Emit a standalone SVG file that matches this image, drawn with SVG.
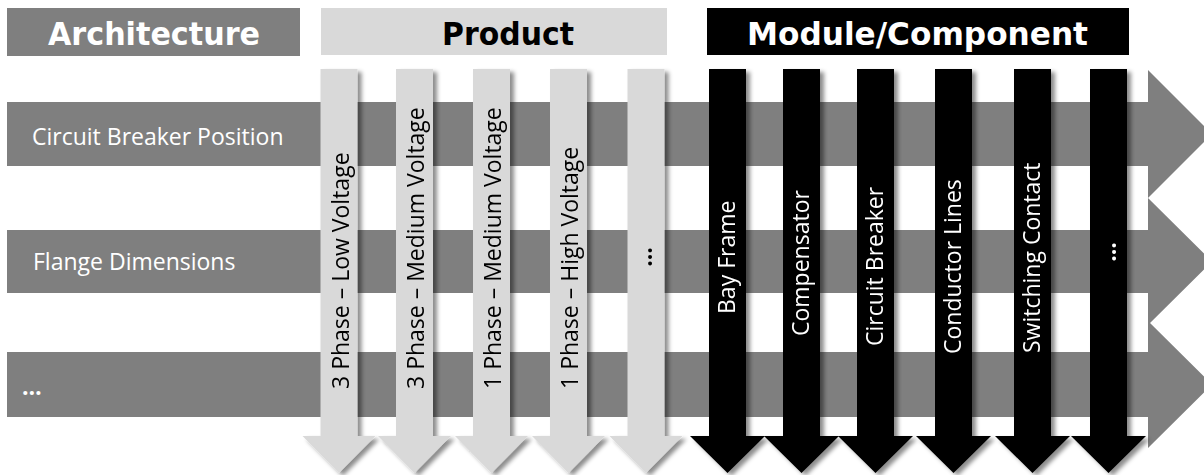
<svg xmlns="http://www.w3.org/2000/svg" width="1204" height="475" viewBox="0 0 1204 475">
<defs>
<style>
.hdr{font-family:"DejaVu Sans",Verdana,sans-serif;font-weight:bold;font-size:32px;text-anchor:middle}
.lbl{font-family:"Open Sans","Noto Sans",sans-serif;font-size:23px}
.row{fill:#7f7f7f}
.prod{fill:#d9d9d9}
.mod{fill:#000}
.wt{fill:#fff}
.bk{fill:#000}
</style>
<filter id="sh" x="-20%" y="-5%" width="150%" height="115%">
<feDropShadow dx="4" dy="3" stdDeviation="2" flood-color="#000" flood-opacity="0.45"/>
</filter>
<polygon id="garrow" points="-18.5,69 18.5,69 18.5,436 36.5,436 0,473 -36.5,436 -18.5,436"/>
<polygon id="barrow" points="-18.5,69 18.5,69 18.5,436 37.5,436 0,473 -37.5,436 -18.5,436"/>
</defs>
<rect width="1204" height="475" fill="#fff"/>

<g id="header-architecture">
<rect x="7" y="8" width="293" height="48" fill="#7f7f7f"/>
<text class="hdr wt" x="154" y="44.5" textLength="212" lengthAdjust="spacingAndGlyphs">Architecture</text>
</g>
<g id="header-product">
<rect x="321" y="8" width="346" height="47" fill="#d9d9d9"/>
<text class="hdr bk" x="508" y="44.5" textLength="132" lengthAdjust="spacingAndGlyphs">Product</text>
</g>
<g id="header-module">
<rect x="707" y="8" width="422" height="47" fill="#000"/>
<text class="hdr wt" x="917.5" y="44.5" textLength="341" lengthAdjust="spacingAndGlyphs">Module/Component</text>
</g>

<g id="row-circuit-breaker-position">
<polygon class="row" points="7,102 1148,102 1148,70 1212,134 1148,198 1148,166 7,166"/>
<text class="lbl wt" x="32" y="145">Circuit Breaker Position</text>
</g>
<g id="row-flange-dimensions">
<polygon class="row" points="7,230 1148,230 1148,198 1212,261.5 1148,325 1148,293 7,293"/>
<text class="lbl wt" x="33" y="270">Flange Dimensions</text>
</g>
<g id="row-more">
<polygon class="row" points="7,352 1148,352 1148,321 1212,384.5 1148,448 1148,417 7,417"/>
<text class="lbl wt" x="22" y="395" font-weight="bold">…</text>
</g>

<g id="connectors"></g>

<g id="product-3p-lv" filter="url(#sh)">
<use href="#garrow" class="prod" transform="translate(339,0)"/>
<text class="lbl bk" transform="translate(348.5,389) rotate(-90)">3 Phase – Low Voltage</text>
</g>
<g id="product-3p-mv" filter="url(#sh)">
<use href="#garrow" class="prod" transform="translate(414.5,0)"/>
<text class="lbl bk" transform="translate(424,389) rotate(-90)">3 Phase – Medium Voltage</text>
</g>
<g id="product-1p-mv" filter="url(#sh)">
<use href="#garrow" class="prod" transform="translate(491.5,0)"/>
<text class="lbl bk" transform="translate(501,389) rotate(-90)">1 Phase – Medium Voltage</text>
</g>
<g id="product-1p-hv" filter="url(#sh)">
<use href="#garrow" class="prod" transform="translate(568.5,0)"/>
<text class="lbl bk" transform="translate(578,389) rotate(-90)">1 Phase – High Voltage</text>
</g>
<g id="product-more" filter="url(#sh)">
<use href="#garrow" class="prod" transform="translate(646,0)"/>
<text class="lbl bk" font-weight="bold" text-anchor="middle" transform="translate(652,257) rotate(-90)">…</text>
</g>

<g id="module-bay-frame" filter="url(#sh)">
<use href="#barrow" class="mod" transform="translate(727.5,0)"/>
<text class="lbl wt" transform="translate(734.5,314) rotate(-90)">Bay Frame</text>
</g>
<g id="module-compensator" filter="url(#sh)">
<use href="#barrow" class="mod" transform="translate(801.5,0)"/>
<text class="lbl wt" transform="translate(808.5,336) rotate(-90)">Compensator</text>
</g>
<g id="module-circuit-breaker" filter="url(#sh)">
<use href="#barrow" class="mod" transform="translate(875.5,0)"/>
<text class="lbl wt" transform="translate(882.5,346) rotate(-90)">Circuit Breaker</text>
</g>
<g id="module-conductor-lines" filter="url(#sh)">
<use href="#barrow" class="mod" transform="translate(953.5,0)"/>
<text class="lbl wt" transform="translate(960.5,354) rotate(-90)">Conductor Lines</text>
</g>
<g id="module-switching-contact" filter="url(#sh)">
<use href="#barrow" class="mod" transform="translate(1032.5,0)"/>
<text class="lbl wt" transform="translate(1039.5,353) rotate(-90)">Switching Contact</text>
</g>
<g id="module-more" filter="url(#sh)">
<use href="#barrow" class="mod" transform="translate(1108.5,0)"/>
<text class="lbl wt" font-weight="bold" text-anchor="middle" transform="translate(1116,252) rotate(-90)">…</text>
</g>
</svg>
